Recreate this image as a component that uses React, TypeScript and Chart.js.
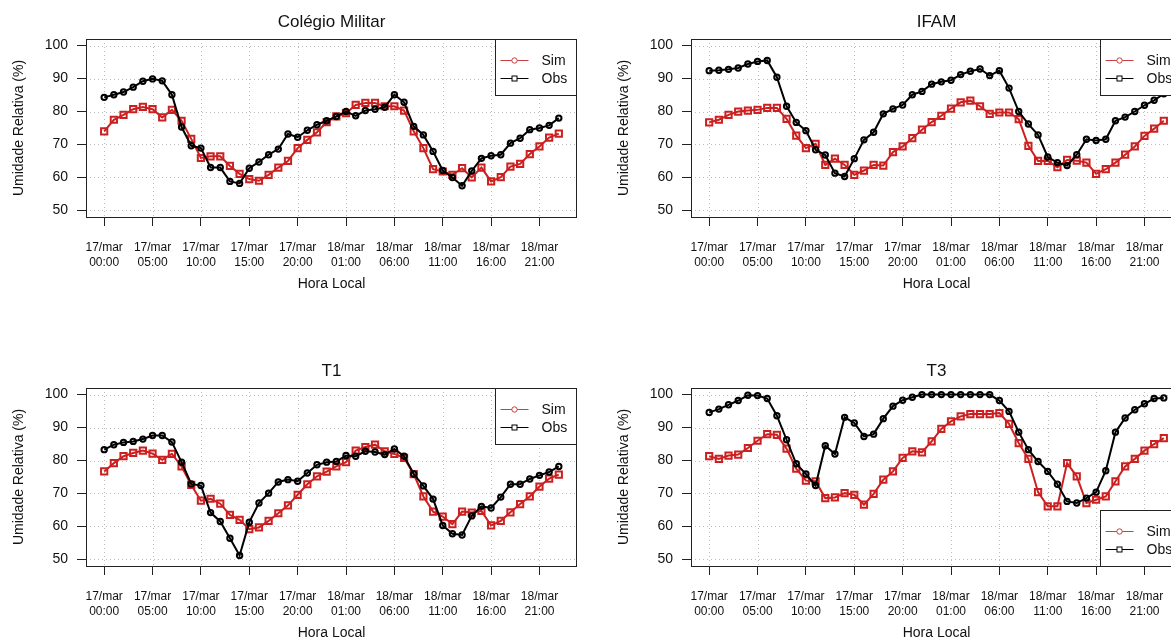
import React, { useEffect, useRef } from "react";
import { Chart, registerables } from "chart.js";

Chart.register(...registerables);

// Hourly time axis: hours elapsed since 17/mar 00:00 (local time)
const hours = [
  0, 1, 2, 3, 4, 5, 6, 7, 8, 9, 10, 11, 12, 13, 14, 15, 16, 17, 18, 19, 20, 21, 22, 23,
  24, 25, 26, 27, 28, 29, 30, 31, 32, 33, 34, 35, 36, 37, 38, 39, 40, 41, 42, 43, 44, 45, 46, 47,
];

const xTickHours = [0, 5, 10, 15, 20, 25, 30, 35, 40, 45];
const xTickDays = ["17/mar", "17/mar", "17/mar", "17/mar", "17/mar", "18/mar", "18/mar", "18/mar", "18/mar", "18/mar"];
const xTickTimes = ["00:00", "05:00", "10:00", "15:00", "20:00", "01:00", "06:00", "11:00", "16:00", "21:00"];
const yTicks = [50, 60, 70, 80, 90, 100];

// Relative humidity (%) — simulated vs observed
const colegioSim = [
  74.0, 77.5, 79.0, 80.7, 81.4, 80.7, 78.2, 80.5, 77.2, 71.7, 65.9, 66.4, 66.4, 63.5, 61.1, 59.5,
  59.0, 60.8, 63.0, 65.0, 68.9, 71.4, 73.7, 76.8, 78.5, 79.5, 82.0, 82.6, 82.6, 81.6, 81.6, 80.3,
  74.0, 68.9, 62.5, 61.8, 60.8, 62.8, 60.0, 63.0, 58.8, 60.1, 63.3, 64.1, 67.1, 69.4, 72.1, 73.3,
];
const colegioObs = [
  84.3, 85.1, 85.9, 87.4, 89.2, 89.9, 89.3, 85.1, 75.3, 69.6, 68.9, 63.0, 63.0, 58.8, 58.2, 62.8,
  64.7, 66.9, 68.6, 73.2, 72.2, 74.3, 76.0, 77.2, 78.5, 80.0, 78.7, 80.3, 80.7, 81.3, 85.1, 82.8,
  75.5, 72.9, 67.9, 62.1, 60.0, 57.5, 62.0, 65.8, 66.6, 66.9, 70.4, 71.9, 74.5, 75.0, 75.8, 78.0,
];

const ifamSim = [
  76.7, 77.5, 79.0, 80.0, 80.3, 80.5, 81.1, 81.1, 77.8, 72.7, 68.9, 70.2, 63.8, 65.7, 63.8, 60.8,
  62.1, 63.8, 63.6, 67.7, 69.4, 71.9, 74.5, 76.8, 78.7, 80.9, 82.8, 83.3, 81.6, 79.3, 79.7, 79.7,
  77.7, 69.6, 65.0, 65.0, 63.1, 65.3, 65.1, 64.5, 61.1, 62.5, 64.5, 66.9, 69.4, 72.6, 74.8, 77.2,
];
const ifamObs = [
  92.4, 92.5, 92.8, 93.2, 94.4, 95.2, 95.5, 90.4, 81.6, 76.7, 74.2, 68.4, 66.8, 61.3, 60.3, 65.7,
  71.4, 73.7, 79.3, 80.8, 82.0, 85.1, 86.1, 88.3, 89.0, 89.5, 91.2, 92.2, 92.9, 90.9, 92.4, 87.1,
  80.0, 76.2, 72.9, 66.2, 64.5, 63.6, 66.9, 71.6, 71.2, 71.6, 77.2, 78.3, 80.0, 81.9, 83.4, 85.4,
];

const t1Sim = [
  76.7, 79.2, 81.3, 82.3, 83.0, 82.1, 80.2, 82.0, 78.2, 72.6, 67.8, 68.4, 66.9, 63.5, 62.0, 59.2,
  59.7, 61.7, 64.0, 66.4, 69.6, 72.8, 75.2, 76.6, 78.2, 79.5, 83.0, 84.1, 84.8, 82.8, 82.0, 80.8,
  75.9, 69.1, 64.5, 63.0, 60.7, 64.5, 64.2, 64.7, 60.3, 61.7, 64.3, 66.8, 69.1, 72.1, 74.5, 75.7,
];
const t1Obs = [
  83.3, 84.8, 85.5, 85.8, 86.5, 87.6, 87.6, 85.6, 79.5, 72.9, 72.4, 64.2, 61.5, 56.4, 51.2, 61.3,
  67.1, 70.1, 73.5, 74.2, 73.7, 76.2, 78.7, 79.5, 79.7, 81.5, 81.3, 82.8, 82.6, 81.8, 83.5, 81.3,
  75.9, 72.3, 68.3, 60.3, 57.8, 57.4, 63.2, 66.1, 65.6, 68.9, 72.8, 72.8, 74.4, 75.5, 76.5, 78.2,
];

const t3Sim = [
  81.3, 80.5, 81.5, 81.8, 83.8, 86.0, 88.0, 87.8, 83.6, 77.5, 73.9, 73.7, 68.6, 68.8, 70.1, 69.6,
  66.6, 69.9, 74.2, 76.7, 80.8, 82.8, 82.5, 85.8, 89.6, 91.9, 93.4, 94.1, 94.1, 94.1, 94.4, 91.1,
  85.3, 80.5, 70.4, 66.1, 66.1, 79.2, 75.2, 67.1, 68.1, 69.1, 73.7, 78.2, 80.5, 83.0, 85.0, 86.8,
];
const t3Obs = [
  94.6, 95.6, 96.9, 98.2, 99.8, 99.7, 98.8, 93.6, 86.3, 79.0, 75.9, 72.4, 84.5, 82.0, 93.1, 91.4,
  87.3, 88.0, 92.7, 96.5, 98.3, 99.2, 100.0, 100.0, 100.0, 100.0, 100.0, 100.0, 100.0, 100.0, 98.2, 94.9,
  88.6, 83.3, 79.7, 76.7, 72.8, 67.6, 67.1, 68.6, 70.4, 76.9, 88.6, 92.9, 95.4, 97.2, 98.8, 99.0,
];

const stationTitles = ["Colégio Militar", "IFAM", "T1", "T3"];
const simSeries = [colegioSim, ifamSim, t1Sim, t3Sim];
const obsSeries = [colegioObs, ifamObs, t1Obs, t3Obs];
const legendCorners = ["top", "top", "top", "bottom"];

const FONT = "'Liberation Sans', Arial, Helvetica, sans-serif";
const RED = "#CC2020";
const INK = "#111111";

const PANEL_W = 605;
const PANEL_H = 349;

function toPoints(values: number[]) {
  return values.map((v, i) => ({ x: hours[i], y: v }));
}

function decorPlugin(title: string, legendCorner: string) {
  return {
    id: "panelDecor",
    beforeDatasetsDraw(chart: any) {
      const { ctx, chartArea: a, scales } = chart;
      ctx.save();
      ctx.strokeStyle = "#bdbdbd";
      ctx.lineWidth = 1;
      ctx.setLineDash([1, 3]);
      for (const h of xTickHours) {
        const px = Math.round(scales.x.getPixelForValue(h)) + 0.5;
        ctx.beginPath();
        ctx.moveTo(px, a.top);
        ctx.lineTo(px, a.bottom);
        ctx.stroke();
      }
      for (const v of yTicks) {
        const py = Math.round(scales.y.getPixelForValue(v)) + 0.5;
        ctx.beginPath();
        ctx.moveTo(a.left, py);
        ctx.lineTo(a.right, py);
        ctx.stroke();
      }
      ctx.restore();
    },
    afterDraw(chart: any) {
      const { ctx, chartArea: a } = chart;
      ctx.save();
      ctx.setLineDash([]);

      // plot frame
      ctx.strokeStyle = "#222";
      ctx.lineWidth = 1;
      const l = Math.round(a.left) + 0.5;
      const t = Math.round(a.top) + 0.5;
      const r = Math.round(a.right) - 0.5;
      const b = Math.round(a.bottom) + 0.5;
      ctx.strokeRect(l, t, r - l, b - t);

      // legend box
      const lw = 82;
      const lh = 56;
      const lx = Math.round(a.right - lw) + 0.5;
      const ly = legendCorner === "top" ? t : Math.round(a.bottom - lh) + 0.5;
      ctx.fillStyle = "#fff";
      ctx.fillRect(lx, ly, r - lx, lh);
      ctx.strokeStyle = "#222";
      ctx.strokeRect(lx, ly, r - lx, lh);

      const rows = [
        { label: "Sim", color: "#C84040", marker: "circle", dy: 20.5 },
        { label: "Obs", color: "#000", marker: "square", dy: 38.5 },
      ];
      ctx.font = `14px ${FONT}`;
      ctx.textAlign = "left";
      ctx.textBaseline = "middle";
      for (const row of rows) {
        const y = Math.round(ly + row.dy) + 0.5;
        ctx.strokeStyle = row.color;
        ctx.lineWidth = 1;
        ctx.beginPath();
        ctx.moveTo(lx + 5, y);
        ctx.lineTo(lx + 33, y);
        ctx.stroke();
        const mx = lx + 19;
        ctx.fillStyle = "#fff";
        if (row.marker === "circle") {
          ctx.beginPath();
          ctx.arc(mx, y, 2.7, 0, Math.PI * 2);
          ctx.fill();
          ctx.stroke();
        } else {
          ctx.fillRect(mx - 2.5, y - 2.5, 5, 5);
          ctx.strokeRect(mx - 2.5, y - 2.5, 5, 5);
        }
        ctx.fillStyle = INK;
        ctx.fillText(row.label, lx + 46, y + 1);
      }

      // titles
      const cx = (a.left + a.right) / 2;
      const cy = (a.top + a.bottom) / 2;
      ctx.fillStyle = INK;
      ctx.textAlign = "center";
      ctx.textBaseline = "middle";
      ctx.font = `17px ${FONT}`;
      ctx.fillText(title, cx, 22);

      ctx.font = `14px ${FONT}`;
      ctx.fillText("Hora Local", cx, 284);

      ctx.translate(19, cy);
      ctx.rotate(-Math.PI / 2);
      ctx.fillText("Umidade Relativa (%)", 0, 0);
      ctx.restore();
    },
  };
}

function Panel({ index }: { index: number }) {
  const ref = useRef<HTMLCanvasElement | null>(null);

  useEffect(() => {
    const canvas = ref.current;
    if (!canvas) return;
    const chart = new Chart(canvas, {
      type: "line",
      data: {
        datasets: [
          {
            label: "Sim",
            data: toPoints(simSeries[index]),
            borderColor: RED,
            borderWidth: 2,
            pointStyle: "rect",
            pointRadius: 4.4,
            pointBorderWidth: 2,
            pointBorderColor: RED,
            pointBackgroundColor: "rgba(0,0,0,0)",
            tension: 0,
            order: 2,
          },
          {
            label: "Obs",
            data: toPoints(obsSeries[index]),
            borderColor: "#000",
            borderWidth: 2,
            pointStyle: "circle",
            pointRadius: 2.7,
            pointBorderWidth: 2,
            pointBorderColor: "#000",
            pointBackgroundColor: "rgba(0,0,0,0)",
            tension: 0,
            order: 1,
          },
        ],
      },
      options: {
        responsive: false,
        animation: false,
        devicePixelRatio: 1,
        events: [],
        layout: { padding: { left: 0, top: 39, right: 28, bottom: 0 } },
        plugins: {
          legend: { display: false },
          tooltip: { enabled: false },
          title: { display: false },
        },
        scales: {
          x: {
            type: "linear",
            min: -1.88,
            max: 48.88,
            afterBuildTicks: (scale: any) => {
              scale.ticks = xTickHours.map((v) => ({ value: v }));
            },
            afterFit: (scale: any) => {
              scale.height = 132;
            },
            border: { display: false },
            grid: {
              drawOnChartArea: false,
              drawTicks: true,
              tickLength: 9,
              tickColor: "#222",
              tickWidth: 1,
            },
            ticks: {
              autoSkip: false,
              maxRotation: 0,
              minRotation: 0,
              padding: 14.5,
              color: INK,
              font: { family: FONT, size: 12, lineHeight: 1.25 },
              callback: (value: any) => {
                const k = xTickHours.indexOf(Number(value));
                return k >= 0 ? [xTickDays[k], xTickTimes[k]] : "";
              },
            },
          },
          y: {
            type: "linear",
            min: 48,
            max: 102,
            afterBuildTicks: (scale: any) => {
              scale.ticks = yTicks.map((v) => ({ value: v }));
            },
            afterFit: (scale: any) => {
              scale.width = 86;
            },
            border: { display: false },
            grid: {
              drawOnChartArea: false,
              drawTicks: true,
              tickLength: 9,
              tickColor: "#222",
              tickWidth: 1,
            },
            ticks: {
              padding: 9,
              color: INK,
              font: { family: FONT, size: 14 },
              callback: (value: any) => String(value),
            },
          },
        },
      },
      plugins: [decorPlugin(stationTitles[index], legendCorners[index])],
    } as any);
    return () => chart.destroy();
  }, [index]);

  const col = index % 2;
  const row = Math.floor(index / 2);
  return (
    <canvas
      ref={ref}
      width={PANEL_W}
      height={PANEL_H}
      style={{
        position: "absolute",
        left: col * PANEL_W,
        top: row * PANEL_H,
        width: PANEL_W,
        height: PANEL_H,
      }}
    />
  );
}

export default function App() {
  return (
    <div
      style={{
        position: "fixed",
        left: 0,
        top: 0,
        width: 1171,
        height: 639,
        overflow: "hidden",
        background: "#fff",
      }}
    >
      {stationTitles.map((_, i) => (
        <Panel key={i} index={i} />
      ))}
    </div>
  );
}
